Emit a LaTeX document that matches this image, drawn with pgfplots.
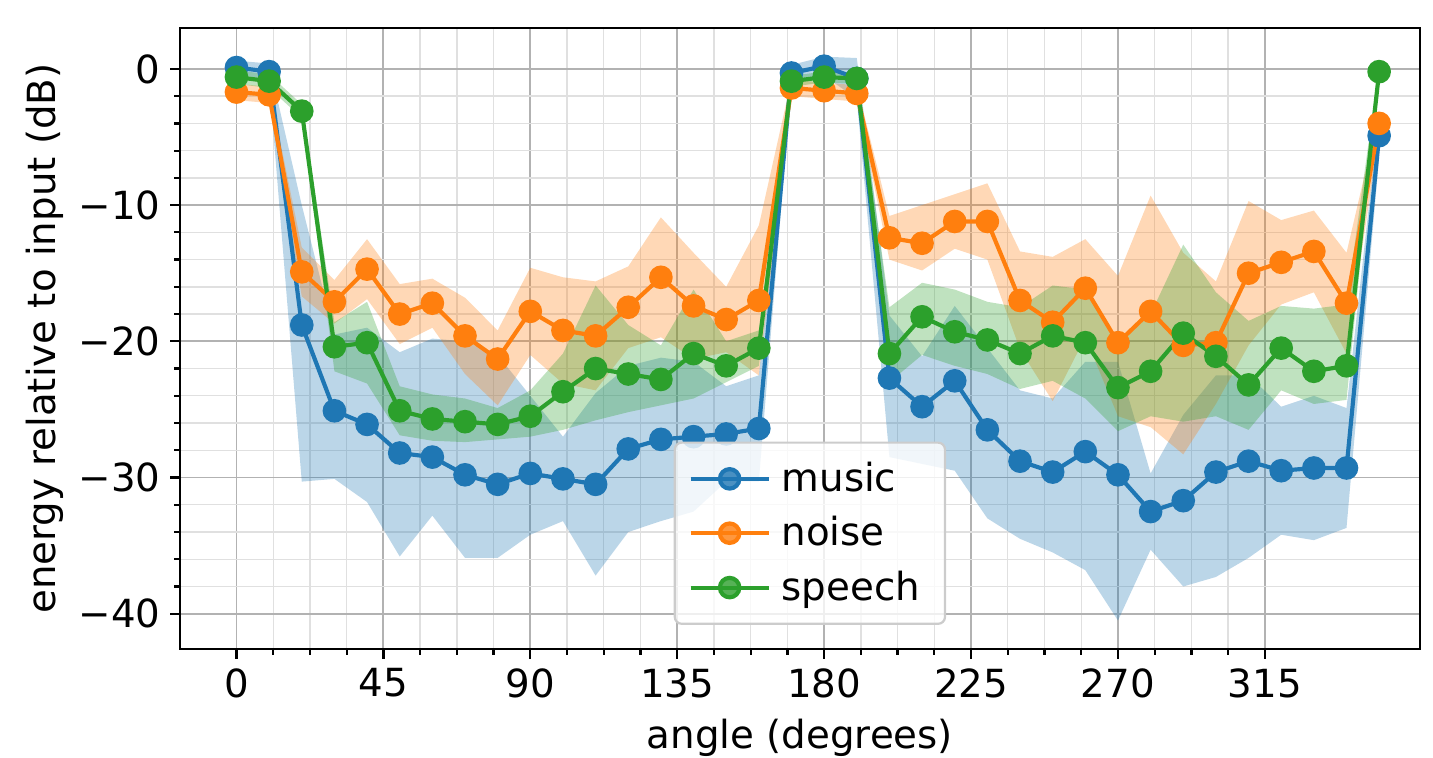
\documentclass[border=0pt]{standalone}
\usepackage{fontspec}
\setmainfont{DejaVu Sans}
\usepackage{pgfplots}
\usepackage{pgfplotstable}
\pgfplotsset{compat=1.18}
\usepgfplotslibrary{fillbetween}

\definecolor{c1}{HTML}{1F77B4}
\definecolor{c2}{HTML}{FF7F0E}
\definecolor{c3}{HTML}{2CA02C}

\pgfplotstableread{
x m lo hi
0 0.1 -0.4 0.6
10 -0.2 -0.8 0.4
20 -18.8 -30.3 -10.0
30 -25.1 -30.1 -19.5
40 -26.1 -31.8 -19.0
50 -28.2 -35.8 -20.8
60 -28.5 -32.8 -19.8
70 -29.8 -35.9 -20.0
80 -30.5 -35.9 -21.0
90 -29.7 -34.2 -24.0
100 -30.1 -33.2 -27.0
110 -30.5 -37.2 -23.8
120 -27.9 -34.0 -21.8
130 -27.2 -33.2 -21.2
140 -27.0 -32.5 -21.5
150 -26.8 -30.3 -23.3
160 -26.4 -30.3 -22.5
170 -0.3 -0.9 0.3
180 0.2 -0.5 0.9
190 -0.7 -2.2 0.8
200 -22.7 -28.5 -18.1
210 -24.8 -29.0 -21.1
220 -22.9 -29.5 -17.4
230 -26.5 -33.0 -20.5
240 -28.8 -34.5 -23.6
250 -29.6 -35.5 -24.2
260 -28.1 -36.8 -21.5
270 -29.8 -40.5 -21.5
280 -32.5 -35.3 -29.7
290 -31.7 -38.0 -25.4
300 -29.6 -37.3 -22.5
310 -28.8 -35.9 -22.5
320 -29.5 -34.2 -24.8
330 -29.3 -34.6 -24.0
340 -29.3 -33.7 -24.9
350 -4.9 -6.5 -3.3
}\music

\pgfplotstableread{
x m lo hi
0 -1.7 -2.3 -1.1
10 -1.9 -2.5 -1.3
20 -14.9 -16.7 -13.1
30 -17.1 -18.7 -15.5
40 -14.7 -16.9 -12.5
50 -18.0 -20.2 -15.8
60 -17.2 -19.0 -15.4
70 -19.6 -22.4 -16.8
80 -21.3 -24.7 -19.2
90 -17.8 -21.0 -14.6
100 -19.2 -23.1 -15.3
110 -19.6 -23.6 -15.6
120 -17.5 -20.5 -14.5
130 -15.3 -19.7 -10.9
140 -17.4 -21.3 -13.5
150 -18.4 -20.8 -16.0
160 -17.0 -22.5 -11.5
170 -1.4 -2.0 -0.8
180 -1.6 -2.2 -1.0
190 -1.8 -2.4 -1.2
200 -12.4 -14.0 -10.8
210 -12.8 -14.8 -10.0
220 -11.2 -13.2 -9.2
230 -11.2 -14.0 -8.4
240 -17.0 -20.6 -13.4
250 -18.6 -24.4 -13.8
260 -16.1 -19.7 -12.5
270 -20.1 -25.5 -15.2
280 -17.8 -26.3 -9.3
290 -20.3 -28.3 -13.5
300 -20.1 -24.6 -15.6
310 -15.0 -20.3 -9.7
320 -14.2 -17.3 -11.1
330 -13.4 -16.4 -10.4
340 -17.2 -20.9 -13.5
350 -4.0 -4.8 -3.2
}\noise

\pgfplotstableread{
x m lo hi
0 -0.6 -1.1 -0.1
10 -0.9 -1.4 -0.4
20 -3.1 -3.6 -2.6
30 -20.4 -22.2 -18.6
40 -20.1 -23.1 -17.1
50 -25.1 -26.9 -23.3
60 -25.7 -27.3 -23.9
70 -25.9 -27.4 -24.2
80 -26.1 -27.2 -24.9
90 -25.5 -27.0 -23.6
100 -23.7 -26.5 -20.9
110 -22.0 -25.8 -15.9
120 -22.4 -25.2 -18.8
130 -22.8 -24.7 -20.3
140 -20.9 -24.2 -16.2
150 -21.8 -23.0 -20.0
160 -20.5 -21.8 -19.2
170 -0.9 -1.3 -0.5
180 -0.6 -1.0 -0.2
190 -0.7 -1.1 -0.3
200 -20.9 -23.0 -17.5
210 -18.2 -21.0 -15.7
220 -19.3 -21.8 -16.2
230 -19.9 -22.4 -17.1
240 -20.9 -23.5 -17.5
250 -19.6 -22.9 -15.9
260 -20.1 -24.2 -16.2
270 -23.4 -26.6 -20.2
280 -22.2 -25.5 -18.0
290 -19.4 -25.9 -12.9
300 -21.1 -25.5 -16.4
310 -23.2 -26.5 -18.5
320 -20.5 -23.6 -17.4
330 -22.2 -24.6 -17.6
340 -21.8 -24.3 -17.3
350 -0.2 -0.7 0.3
}\speech

\begin{document}
\begin{tikzpicture}
\begin{axis}[
  scale only axis,
  width=446.4bp, height=223.6bp,
  xmin=-17.3, xmax=362.5, ymin=-42.6, ymax=3.0,
  xtick={0,45,...,315}, minor x tick num=3,
  ytick={-40,-30,-20,-10,0}, yticklabels={−40,−30,−20,−10,0},
  minor y tick num=4,
  grid=both,
  major grid style={color=black!30, line width=0.7bp},
  minor grid style={color=black!12, line width=0.5bp},
  tick align=outside, tick pos=left,
  major tick length=3.5bp, minor tick length=2bp,
  every tick/.style={black, line width=0.8bp},
  axis line style={black, line width=0.8bp},
  /pgf/number format/assume math mode=true,
  tick label style={font=\fontsize{14}{16}\selectfont},
  xlabel={angle (degrees)}, ylabel={energy relative to input (dB)},
  every axis x label/.style={at={([yshift=-32bp]rel axis cs:0.5,0)}, anchor=center, font=\fontsize{14}{16}\selectfont},
  every axis y label/.style={at={([xshift=-48.6bp]rel axis cs:0,0.5)}, rotate=90, anchor=center, font=\fontsize{14}{16}\selectfont},
  legend style={at={(0.508,0.039)}, anchor=south, draw=black!20, line width=0.8bp,
    rounded corners=2.5bp, fill=white, fill opacity=0.8, text opacity=1, draw opacity=1,
    font=\fontsize{14}{16}\selectfont, row sep=3.5bp, inner xsep=5bp, inner ysep=5bp,
    nodes={inner xsep=4bp}},
  legend cell align=left,
  legend image code/.code={\draw[mark repeat=2,mark phase=2,#1] plot coordinates {(0bp,0bp) (14bp,0bp) (28bp,0bp)};},
]
% bands
\addplot[name path=mlo, draw=none, forget plot] table[x=x,y=lo]{\music};
\addplot[name path=mhi, draw=none, forget plot] table[x=x,y=hi]{\music};
\addplot[fill=c1, fill opacity=0.3, draw=none, forget plot] fill between[of=mlo and mhi];
\addplot[name path=nlo, draw=none, forget plot] table[x=x,y=lo]{\noise};
\addplot[name path=nhi, draw=none, forget plot] table[x=x,y=hi]{\noise};
\addplot[fill=c2, fill opacity=0.3, draw=none, forget plot] fill between[of=nlo and nhi];
\addplot[name path=slo, draw=none, forget plot] table[x=x,y=lo]{\speech};
\addplot[name path=shi, draw=none, forget plot] table[x=x,y=hi]{\speech};
\addplot[fill=c3, fill opacity=0.3, draw=none, forget plot] fill between[of=slo and shi];
% lines
\addplot[c1, line width=1.5bp, mark=*, mark size=3.5bp, mark options={solid, fill=c1, draw=c1}] table[x=x,y=m]{\music};
\addlegendentry{music}
\addplot[c2, line width=1.5bp, mark=*, mark size=3.5bp, mark options={solid, fill=c2, draw=c2}] table[x=x,y=m]{\noise};
\addlegendentry{noise}
\addplot[c3, line width=1.5bp, mark=*, mark size=3.5bp, mark options={solid, fill=c3, draw=c3}] table[x=x,y=m]{\speech};
\addlegendentry{speech}
\coordinate (bl) at (rel axis cs:0,0);
\coordinate (tr) at (rel axis cs:1,1);
\end{axis}
\pgfresetboundingbox
\path[use as bounding box] ([shift={(-64.8bp,-38.9bp)}]bl) rectangle ([shift={(4.7bp,10.1bp)}]tr);
\end{tikzpicture}
\end{document}
